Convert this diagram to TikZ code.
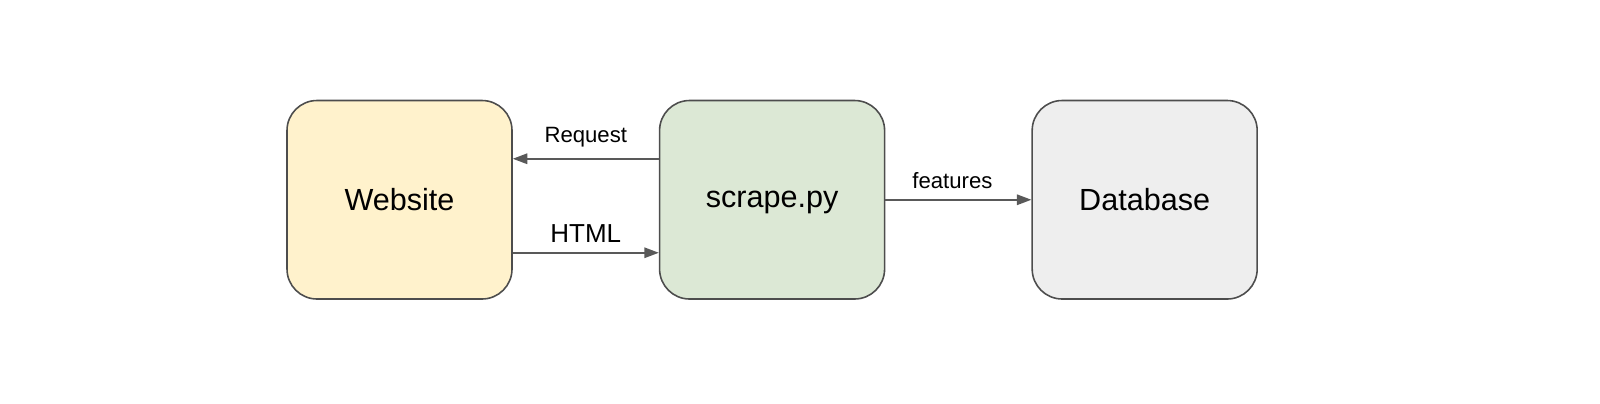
\documentclass[tikz,border=0pt]{standalone}
\usepackage{fontspec}
\setmainfont{Liberation Sans}
\usepackage{xcolor}
\usetikzlibrary{positioning,arrows.meta}

\definecolor{siteyellow}{HTML}{FFF2CC}
\definecolor{scriptgreen}{HTML}{DCE8D5}
\definecolor{dbgray}{HTML}{EEEEEE}
\definecolor{edgegray}{HTML}{4D4D4D}
\definecolor{linkgray}{HTML}{595959}

\begin{document}
\begin{tikzpicture}[
    block/.style={draw=edgegray, line width=0.45pt, rounded corners=3mm,
        minimum width=2.25cm, minimum height=1.985cm, text depth=0pt,
        font=\fontsize{8.7}{10}\selectfont},
    link/.style={draw=linkgray, line width=0.45pt, -{Triangle[length=1.45mm,width=1.05mm]}},
    tag/.style={font=\fontsize{6.3}{7.5}\selectfont}
]
    \useasboundingbox (0,0) rectangle (16,4.03);

    % Boxes
    \node[block, fill=siteyellow] (website) at (3.995,2.0325) {Website};
    \node[block, fill=scriptgreen, right=1.46cm of website] (scrape) {scrape.py};
    \node[block, fill=dbgray, right=1.46cm of scrape] (database) {Database};

    % Request and response
    \draw[link] ([yshift=4.1mm]scrape.west) -- ([yshift=4.1mm]website.east)
        node[tag, midway, yshift=2.2mm] {Request};
    \draw[link] ([yshift=-5.3mm]website.east) -- ([yshift=-5.3mm]scrape.west)
        node[midway, yshift=1.9mm, font=\fontsize{7.4}{9}\selectfont] {HTML};

    % Output
    \draw[link] (scrape) -- (database)
        node[tag, midway, xshift=-0.6mm, yshift=1.9mm] {features};
\end{tikzpicture}
\end{document}
